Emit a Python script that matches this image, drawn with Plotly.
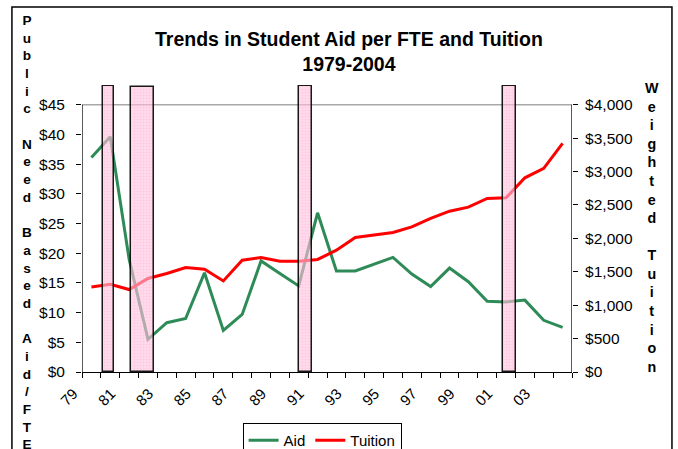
import plotly.graph_objects as go

# ---------------- data ----------------
years = list(range(1979, 2005))
tick_labels = ["79", "81", "83", "85", "87", "89", "91", "93", "95", "97", "99", "01", "03"]
aid = [36.1, 39.6, 19.0, 5.5, 8.3, 9.0, 16.7, 7.0, 9.7, 18.7, 16.6, 14.5, 26.8,
       17.0, 17.0, 18.2, 19.3, 16.5, 14.4, 17.5, 15.2, 11.9, 11.8, 12.1, 8.7, 7.5]
tuition = [1273, 1314, 1234, 1399, 1474, 1564, 1539, 1363, 1673, 1714, 1658, 1658, 1684,
           1823, 2013, 2048, 2088, 2172, 2298, 2407, 2467, 2597, 2607, 2906, 3047, 3421]
recession_start = [1980.11, 1981.58, 1990.54, 2001.35]
recession_end = [1980.68, 1982.80, 1991.20, 2002.01]
recession_top = [48.2, 47.9, 48.2, 48.2]

AID_MAX = 45
TUI_MAX = 4000
Y_TOP = 48.32  # axis range top so that recession bars can rise above $45
FONT = "Arial, Liberation Sans, sans-serif"

x_pts = [y + 0.5 for y in years]
bar_x = [(s + e) / 2 for s, e in zip(recession_start, recession_end)]
bar_w = [e - s for s, e in zip(recession_start, recession_end)]

fig = go.Figure()
fig.add_trace(go.Scatter(x=x_pts, y=aid, mode="lines", name="Aid",
                         line=dict(color="#2E8B57", width=3), yaxis="y"))
fig.add_trace(go.Scatter(x=x_pts, y=tuition, mode="lines", name="Tuition",
                         line=dict(color="#FF0000", width=3), yaxis="y2"))
fig.add_trace(go.Bar(x=bar_x, y=recession_top, width=bar_w, yaxis="y3", showlegend=False,
                     marker=dict(color="rgba(255,180,212,0.6)",
                                 line=dict(color="rgba(0,0,0,0.9)", width=1.5),
                                 pattern=dict(shape="+", size=3, solidity=0.25,
                                              fillmode="overlay",
                                              bgcolor="rgba(255,195,222,0.6)",
                                              fgcolor="rgba(255,140,195,0.6)"))))

tick_vals_x = [y + 0.5 for y in range(1979, 2005, 2)]

fig.update_layout(
    width=678, height=449,
    margin=dict(l=82, r=106, t=85, b=77, autoexpand=False),
    paper_bgcolor="white", plot_bgcolor="white",
    font=dict(family=FONT, size=14, color="black"),
    showlegend=True,
    legend=dict(orientation="h", x=0.49, xanchor="center", y=-0.178, yanchor="top",
                bordercolor="black", borderwidth=1, font=dict(size=15),
                itemwidth=30, tracegroupgap=0),
    bargap=0,
    xaxis=dict(range=[1979, 2005], tickmode="array", tickvals=tick_vals_x, ticktext=tick_labels,
               tickangle=-45, ticks="", showline=True, linecolor="black", linewidth=1.3,
               showgrid=False, zeroline=False, tickfont=dict(size=15), automargin=False,
               ticklabelshift=-18, ticklabelstandoff=6,
               minor=dict(tick0=1979, dtick=1, ticks="outside", ticklen=5,
                          tickcolor="black", tickwidth=1.2, showgrid=False)),
    yaxis=dict(range=[0, Y_TOP], tickmode="array", tickvals=list(range(0, AID_MAX + 1, 5)),
               tickformat="$.0f", ticks="outside", ticklen=5, tickcolor="black", tickwidth=1.2,
               showline=False, showgrid=False, zeroline=False, tickfont=dict(size=15.5),
               ticklabelstandoff=8, automargin=False),
    yaxis2=dict(range=[0, Y_TOP * TUI_MAX / AID_MAX], overlaying="y", side="right",
                tickmode="array", tickvals=list(range(0, TUI_MAX + 1, 500)),
                tickformat="$,.0f", ticks="outside", ticklen=5, tickcolor="black", tickwidth=1.2,
                showline=False, showgrid=False, zeroline=False, tickfont=dict(size=15.5),
                ticklabelstandoff=4, automargin=False),
    yaxis3=dict(range=[0, Y_TOP], overlaying="y", visible=False),
)

# top reference line and the axis lines that stop at the axis maximum
fig.add_shape(type="line", xref="x", yref="y", x0=1979, x1=2005, y0=AID_MAX, y1=AID_MAX,
              line=dict(color="#A8A8A8", width=1.5), layer="below")
fig.add_shape(type="line", xref="x", yref="y", x0=1979, x1=1979, y0=0, y1=AID_MAX,
              line=dict(color="black", width=1.3), layer="above")
fig.add_shape(type="line", xref="x", yref="y", x0=2005, x1=2005, y0=0, y1=AID_MAX,
              line=dict(color="black", width=1.3), layer="above")
# chart border
fig.add_shape(type="rect", xref="paper", yref="paper", x0=-0.143, x1=1.204, y0=-0.35, y1=1.272,
              line=dict(color="black", width=1.5), fillcolor="rgba(0,0,0,0)", layer="below")

fig.add_annotation(xref="paper", yref="paper", x=0.545, y=1.118, xanchor="center", yanchor="middle",
                   text="<b>Trends in Student Aid per FTE and Tuition<br>1979-2004</b>",
                   showarrow=False, font=dict(size=19.5, family=FONT))

left_title = "Public Need Based Aid/FTE"
right_title = "Weighted Tuition"
fig.add_annotation(xref="paper", yref="paper", x=-0.112, y=0.486, xanchor="center", yanchor="middle",
                   text="<b>" + "<br>".join(ch if ch != " " else " " for ch in left_title) + "</b>",
                   showarrow=False, font=dict(size=13.6, family=FONT))
fig.add_annotation(xref="paper", yref="paper", x=1.163, y=0.505, xanchor="center", yanchor="middle",
                   text="<b>" + "<br>".join(ch if ch != " " else " " for ch in right_title) + "</b>",
                   showarrow=False, font=dict(size=14.3, family=FONT))

fig.write_html("out.html", config={"displayModeBar": False},
               post_script="document.body.style.margin='0';")
